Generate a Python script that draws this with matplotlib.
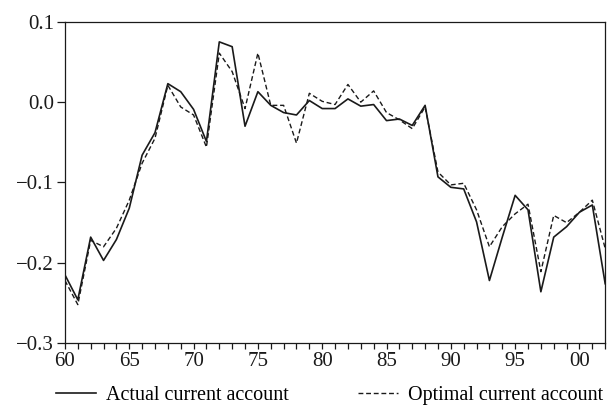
import numpy as np
import matplotlib.pyplot as plt
from matplotlib.ticker import FuncFormatter, MultipleLocator

plt.rcParams['font.family'] = ['Liberation Serif', 'DejaVu Serif']

years = np.arange(1960, 2003)

actual = [-0.215, -0.246, -0.168, -0.197, -0.171, -0.132, -0.066, -0.038, 0.023,
          0.013, -0.009, -0.049, 0.075, 0.069, -0.030, 0.013, -0.004, -0.013,
          -0.016, 0.002, -0.008, -0.008, 0.004, -0.005, -0.003, -0.023, -0.021,
          -0.029, -0.004, -0.093, -0.106, -0.108, -0.149, -0.222, -0.168, -0.116,
          -0.134, -0.236, -0.168, -0.155, -0.137, -0.128, -0.226]

optimal = [-0.222, -0.252, -0.172, -0.180, -0.157, -0.122, -0.076, -0.045, 0.021,
           -0.006, -0.016, -0.056, 0.061, 0.038, -0.008, 0.061, -0.004, -0.004,
           -0.051, 0.011, 0.001, -0.003, 0.022, 0.000, 0.014, -0.013, -0.022,
           -0.033, -0.006, -0.087, -0.103, -0.101, -0.134, -0.180, -0.155, -0.139,
           -0.127, -0.211, -0.141, -0.150, -0.137, -0.122, -0.182]

fig = plt.figure(figsize=(6.07, 4.11), dpi=100)
ax = fig.add_axes([0.107, 0.165, 0.89, 0.782])

ax.plot(years, actual, color='#1a1a1a', lw=1.2, label='Actual current account')
ax.plot(years, optimal, color='#1a1a1a', lw=1.0, ls=(0, (3.5, 2)),
        label='Optimal current account')

ax.set_xlim(1960, 2002)
ax.set_ylim(-0.3, 0.1)
ax.xaxis.set_major_locator(MultipleLocator(5))
ax.xaxis.set_minor_locator(MultipleLocator(1))
ax.xaxis.set_major_formatter(FuncFormatter(lambda v, p: f"{int(v) % 100:02d}"))
ax.yaxis.set_major_locator(MultipleLocator(0.1))
ax.yaxis.set_major_formatter(FuncFormatter(
    lambda v, p: f"{v:.1f}".replace('-', '\u2212') if abs(v) > 1e-9 else "0.0"))

ax.tick_params(axis='both', which='both', direction='out', length=4, width=0.9,
               labelsize=15, colors='#1a1a1a')
ax.tick_params(axis='x', pad=2)
ax.tick_params(axis='y', length=6, pad=2)
for s in ax.spines.values():
    s.set_linewidth(0.9)
    s.set_color('#1a1a1a')

# legend sits under the tick labels, no frame
fig.legend(loc='center', bbox_to_anchor=(0.543, 0.037), ncol=2, frameon=False,
           fontsize=14.5, handlelength=2.0, columnspacing=3.4, handletextpad=0.5,
           borderpad=0, borderaxespad=0)

fig.savefig('out.png', dpi=100)
